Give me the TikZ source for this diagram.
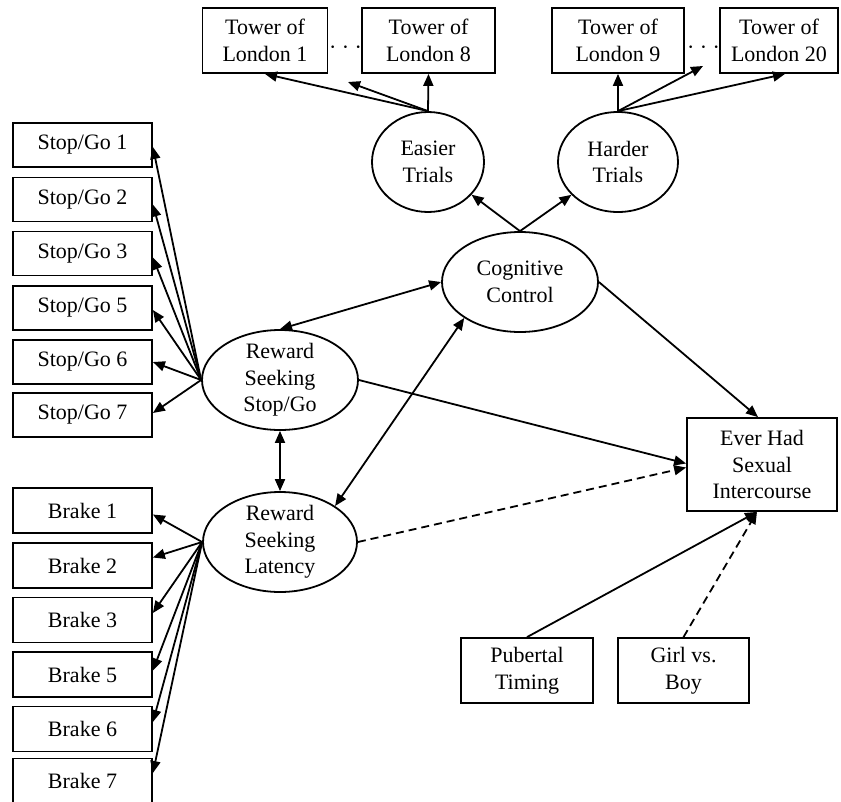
\documentclass[tikz,border=0pt]{standalone}
\usepackage{fontspec}
\setmainfont{Liberation Serif}
\usetikzlibrary{arrows.meta,shapes.geometric,calc}
\begin{document}
\begin{tikzpicture}[x=1pt,y=-1pt,
  every node/.style={font=\fontsize{22}{26.5}\selectfont, align=center},
  box/.style={draw, line width=1.8pt, inner sep=0pt, rectangle},
  latent/.style={draw, ellipse, line width=1.8pt, inner xsep=0pt, inner ysep=-4pt},
  arr/.style={line width=1.8pt, -{Triangle[length=12pt,width=10pt]}},
  darr/.style={line width=1.8pt, {Triangle[length=12pt,width=10pt]}-{Triangle[length=12pt,width=10pt]}},
  dsh/.style={dash pattern=on 8pt off 5pt}]
\useasboundingbox (0,0) rectangle (841,801);

% Tower of London boxes
\node[box, minimum width=125pt, minimum height=65pt] (tol1) at (265,40.5) {Tower of\\London 1};
\node[box, minimum width=133pt, minimum height=65pt] (tol8) at (428.5,40.5) {Tower of\\London 8};
\node[box, minimum width=132pt, minimum height=65pt] (tol9) at (618,40.5) {Tower of\\London 9};
\node[box, minimum width=118pt, minimum height=65pt] (tol20) at (779,40.5) {Tower of\\London 20};
\node[inner sep=0pt] (dotsA) at (345.5,50) {· · ·};
\node[inner sep=0pt] (dotsB) at (703.5,50) {· · ·};
\coordinate (dA) at (348,82);
\coordinate (dB) at (703,66);

% latent variables
\node[latent, minimum width=112pt, minimum height=100pt] (easy) at (428,162) {Easier\\Trials};
\node[latent, minimum width=120pt, minimum height=100pt] (hard) at (618,162) {Harder\\Trials};
\node[latent, minimum width=156pt, minimum height=100pt] (cog) at (520,282) {Cognitive\\Control};
\node[latent, minimum width=156pt, minimum height=100pt] (rsg) at (280,380) {Reward\\Seeking\\Stop/Go};
\node[latent, minimum width=154pt, minimum height=100pt] (lat) at (280,542) {Reward\\Seeking\\Latency};

% Stop/Go boxes
\node[box, minimum width=139pt, minimum height=44pt] (sg1) at (82.5,145) {Stop/Go 1};
\node[box, minimum width=139pt, minimum height=44pt] (sg2) at (82.5,199.5) {Stop/Go 2};
\node[box, minimum width=139pt, minimum height=44pt] (sg3) at (82.5,253.5) {Stop/Go 3};
\node[box, minimum width=139pt, minimum height=44pt] (sg5) at (82.5,308) {Stop/Go 5};
\node[box, minimum width=139pt, minimum height=44pt] (sg6) at (82.5,362) {Stop/Go 6};
\node[box, minimum width=139pt, minimum height=44pt] (sg7) at (82.5,415) {Stop/Go 7};

% Brake boxes
\node[box, minimum width=139pt, minimum height=45pt] (b1) at (82.5,510.5) {Brake 1};
\node[box, minimum width=139pt, minimum height=45pt] (b2) at (82.5,565.5) {Brake 2};
\node[box, minimum width=139pt, minimum height=45pt] (b3) at (82.5,620) {Brake 3};
\node[box, minimum width=139pt, minimum height=45pt] (b5) at (82.5,674.5) {Brake 5};
\node[box, minimum width=139pt, minimum height=45pt] (b6) at (82.5,729) {Brake 6};
\node[box, minimum width=139pt, minimum height=45pt] (b7) at (82.5,781) {Brake 7};

% outcome and covariates
\node[box, minimum width=150pt, minimum height=93pt] (ever) at (762,464.5) {Ever Had\\Sexual\\Intercourse};
\node[box, minimum width=132pt, minimum height=65pt] (pub) at (527,670.5) {Pubertal\\Timing};
\node[box, minimum width=131pt, minimum height=65pt] (girl) at (683.5,670.5) {Girl vs.\\Boy};

% loadings Tower of London
\draw[arr] (easy.north) -- (tol1.south);
\draw[arr] (easy.north) -- (dA);
\draw[arr] (easy.north) -- (tol8.south);
\draw[arr] (hard.north) -- (tol9.south);
\draw[arr] (hard.north) -- (dB);
\draw[arr] (hard.north) -- ([xshift=6pt]tol20.south);
\draw[arr] (cog.north) -- (easy);
\draw[arr] (cog.north) -- (hard);

% Stop/Go loadings
\draw[arr] (rsg.west) -- ([yshift=-2pt]sg1.east);
\draw[arr] (rsg.west) -- ([yshift=-5pt]sg2.east);
\draw[arr] (rsg.west) -- ([yshift=-4pt]sg3.east);
\draw[arr] (rsg.west) -- ([yshift=-2pt]sg5.east);
\draw[arr] (rsg.west) -- (sg6.east);
\draw[arr] (rsg.west) -- ([yshift=2pt]sg7.east);

% Brake loadings
\draw[arr] (lat.west) -- ([yshift=-4pt]b1.east);
\draw[arr] (lat.west) -- ([yshift=8pt]b2.east);
\draw[arr] (lat.west) -- ([yshift=7pt]b3.east);
\draw[arr] (lat.west) -- ([yshift=4pt]b5.east);
\draw[arr] (lat.west) -- ([yshift=7pt]b6.east);
\draw[arr] (lat.west) -- ([yshift=8pt]b7.east);

% correlations
\draw[darr] (rsg.north) -- (cog.west);
\draw[darr] (rsg.south) -- (lat.north);
\draw[darr] (lat.north east) -- (cog.south west);

% paths to outcome
\draw[arr] (cog.east) -- ([xshift=-4pt]ever.north);
\draw[arr] (rsg.east) -- ([yshift=1pt]ever.west);
\draw[arr, dsh] (lat.east) -- ([yshift=-3pt]ever.west);
\draw[arr] (pub.north) -- ([xshift=-5pt]ever.south);
\draw[arr, dsh] (girl.north) -- ([xshift=-5pt]ever.south);
\end{tikzpicture}
\end{document}
